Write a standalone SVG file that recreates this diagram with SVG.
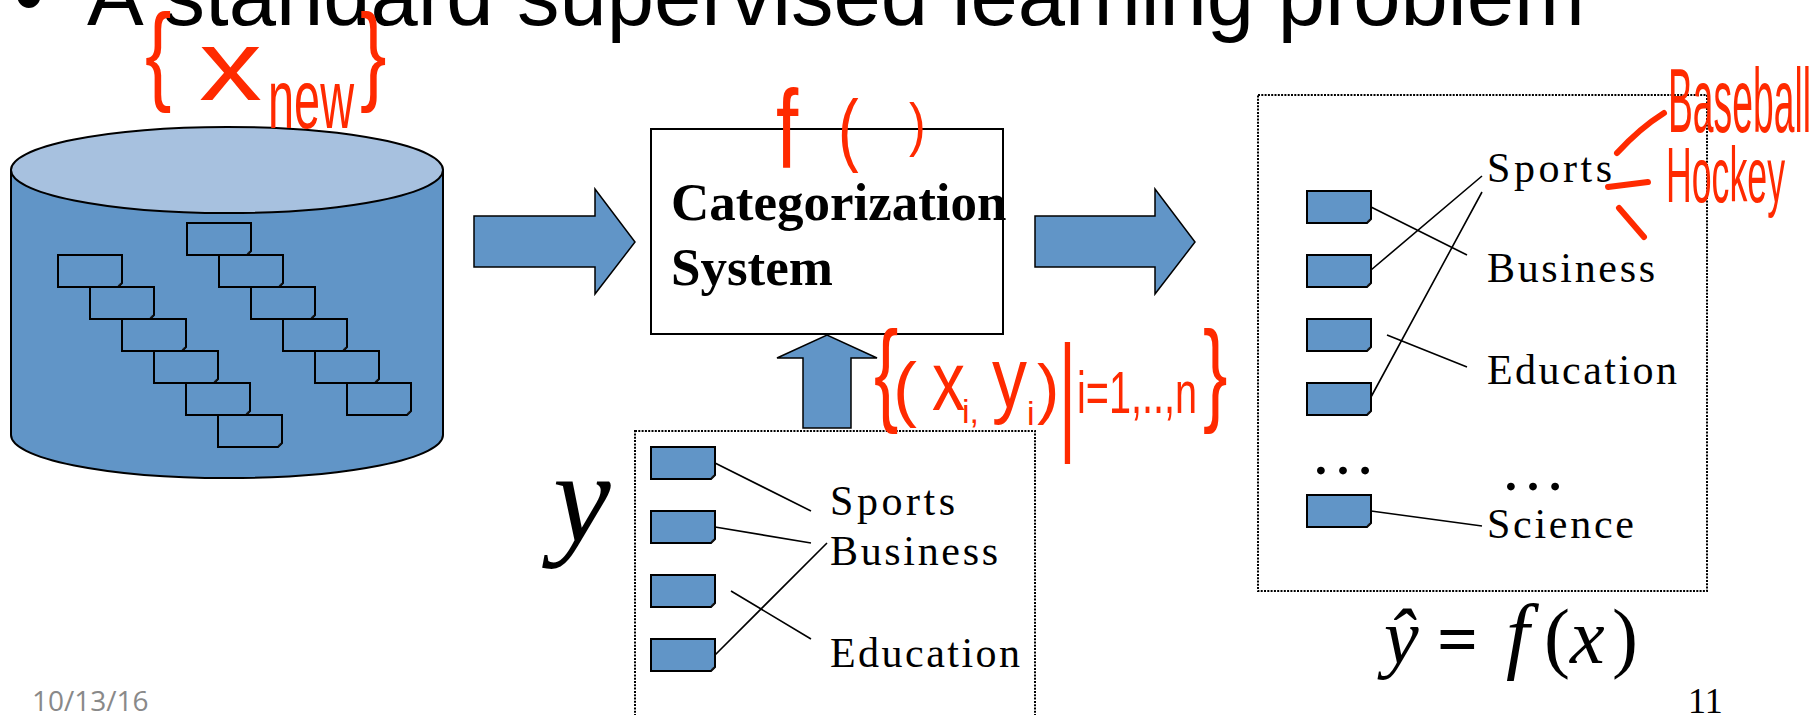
<svg xmlns="http://www.w3.org/2000/svg" xmlns:xlink="http://www.w3.org/1999/xlink" width="1814" height="715" viewBox="0 0 1814 715">
  <style>
    .doc { fill:#6195C7; stroke:#000; stroke-width:2; }
    .fold { fill:#222; }
    .dotbox { fill:none; stroke:#000; stroke-width:2; stroke-dasharray:2 1.3; }
    .link { stroke:#000; stroke-width:1.6; fill:none; }
    .blk { fill:#6195C7; stroke:#000; stroke-width:1.5; }
    .lbl { font-family:"Liberation Serif", serif; font-size:42px; fill:#000; }
    .ink { fill:#FF2A00; font-family:"Liberation Sans", sans-serif; }
    .inkline { stroke:#FF2A00; stroke-width:6; stroke-linecap:round; fill:none; }
  </style>
  <defs>
    <!-- document icon with a folded bottom-right corner -->
    <g id="doc">
      <path class="doc" d="M0,0H64V28L60,32H0Z"/>
      <path class="fold" d="M60,32L61,29L64,28Z"/>
    </g>
  </defs>

  <rect width="1814" height="715" fill="#fff"/>

  <!-- slide title -->
  <g id="title">
    <text x="14" y="25" font-family="'Liberation Sans', sans-serif" font-size="85" fill="#000">•</text>
    <text x="87" y="25" font-family="'Liberation Sans', sans-serif" font-size="85" fill="#000">A standard supervised learning problem</text>
  </g>

  <!-- document store -->
  <g id="database">
    <path d="M11,170V435A216,43 0 0 0 443,435V170Z" fill="#6195C7" stroke="#000" stroke-width="2"/>
    <ellipse cx="227" cy="170" rx="216" ry="43" fill="#A7C1DF" stroke="#000" stroke-width="2"/>
    <use xlink:href="#doc" x="58" y="255"/>
    <use xlink:href="#doc" x="90" y="287"/>
    <use xlink:href="#doc" x="122" y="319"/>
    <use xlink:href="#doc" x="154" y="351"/>
    <use xlink:href="#doc" x="186" y="383"/>
    <use xlink:href="#doc" x="218" y="415"/>
    <use xlink:href="#doc" x="187" y="223"/>
    <use xlink:href="#doc" x="219" y="255"/>
    <use xlink:href="#doc" x="251" y="287"/>
    <use xlink:href="#doc" x="283" y="319"/>
    <use xlink:href="#doc" x="315" y="351"/>
    <use xlink:href="#doc" x="347" y="383"/>
  </g>

  <!-- classifier -->
  <g id="categorizer">
    <rect x="651" y="129" width="352" height="205" fill="#fff" stroke="#000" stroke-width="2"/>
    <text x="671" y="220" font-family="'Liberation Serif', serif" font-weight="bold" font-size="53">Categorization</text>
    <text x="671" y="285" font-family="'Liberation Serif', serif" font-weight="bold" font-size="53">System</text>
  </g>

  <!-- block arrows -->
  <g id="connectors">
    <path class="blk" d="M474,216H595V189L635,242L595,294V267H474Z"/>
    <path class="blk" d="M1035,216H1155V189L1195,242L1155,294V267H1035Z"/>
    <path class="blk" d="M803,428V358H777L827,335L877,358H851V428Z"/>
  </g>

  <!-- labelled training set -->
  <g id="training-set">
    <text x="553" y="541" font-family="'Liberation Serif', serif" font-style="italic" font-size="130">y</text>
    <rect class="dotbox" x="635" y="431" width="400" height="320"/>
    <use xlink:href="#doc" x="651" y="447"/>
    <use xlink:href="#doc" x="651" y="511"/>
    <use xlink:href="#doc" x="651" y="575"/>
    <use xlink:href="#doc" x="651" y="639"/>
    <path class="link" d="M715,463L811,511M715,527L811,543M715,655L827,543M731,591L811,639"/>
    <text class="lbl" x="830" y="515" textLength="125" lengthAdjust="spacing">Sports</text>
    <text class="lbl" x="830" y="565" textLength="168" lengthAdjust="spacing">Business</text>
    <text class="lbl" x="830" y="667" textLength="190" lengthAdjust="spacing">Education</text>
  </g>

  <!-- predicted categories -->
  <g id="predictions">
    <rect class="dotbox" x="1258" y="95" width="449" height="496"/>
    <use xlink:href="#doc" x="1307" y="191"/>
    <use xlink:href="#doc" x="1307" y="255"/>
    <use xlink:href="#doc" x="1307" y="319"/>
    <use xlink:href="#doc" x="1307" y="383"/>
    <use xlink:href="#doc" x="1307" y="495"/>
    <path class="link" d="M1371,207L1467,255M1371,270L1482,176M1371,397L1482,192M1387,335L1467,367M1371,511L1482,526"/>
    <text class="lbl" x="1487" y="182" textLength="125" lengthAdjust="spacing">Sports</text>
    <text class="lbl" x="1487" y="282" textLength="168" lengthAdjust="spacing">Business</text>
    <text class="lbl" x="1487" y="384" textLength="190" lengthAdjust="spacing">Education</text>
    <text class="lbl" x="1487" y="538" textLength="147" lengthAdjust="spacing">Science</text>
    <text x="1310" y="474" font-family="'Liberation Serif', serif" font-size="66">…</text>
    <text x="1500" y="490" font-family="'Liberation Serif', serif" font-size="66">…</text>
  </g>

  <!-- prediction formula -->
  <g id="formula" font-family="'Liberation Serif', serif" font-size="78">
    <text y="663"><tspan x="1384" font-style="italic">ŷ</tspan><tspan x="1437" font-weight="bold" font-size="72">=</tspan><tspan x="1506" font-style="italic" font-size="84">f</tspan><tspan x="1544">(</tspan><tspan x="1570" font-style="italic">x</tspan><tspan x="1612">)</tspan></text>
  </g>

  <!-- footer -->
  <g id="footer">
    <text x="32" y="711" font-family="'Open Sans', sans-serif" font-size="28" fill="#898989">10/13/16</text>
    <text x="1688" y="713" font-family="'Liberation Serif', serif" font-size="36" fill="#000">11</text>
  </g>

  <!-- handwritten notes -->
  <g id="notes">
    <!-- {x_new} -->
    <text class="ink" transform="translate(145,90) scale(1.3,1.8)" font-size="61">{</text>
    <text class="ink" x="199" y="100" font-size="100" textLength="63" lengthAdjust="spacingAndGlyphs">x</text>
    <text class="ink" x="268" y="128" font-size="83" textLength="86" lengthAdjust="spacingAndGlyphs">new</text>
    <text class="ink" transform="translate(360,90) scale(1.3,1.8)" font-size="61">}</text>

    <!-- f( ) -->
    <text class="ink" transform="translate(776,168) scale(1,1.4)" font-size="80">f</text>
    <text class="ink" transform="translate(838,156) scale(1,1.3)" font-size="62">(</text>
    <text class="ink" transform="translate(909,145) scale(1,1.2)" font-size="50">)</text>

    <!-- {(x_i, y_i) | i=1,..,n} -->
    <text class="ink" transform="translate(874,410) scale(1.2,1.85)" font-size="61">{</text>
    <text class="ink" x="893" y="413" font-size="72">(</text>
    <text class="ink" x="932" y="410" font-size="83" textLength="33" lengthAdjust="spacingAndGlyphs">x</text>
    <text class="ink" x="962" y="423" font-size="34">i,</text>
    <text class="ink" x="992" y="407" font-size="86" textLength="35" lengthAdjust="spacingAndGlyphs">y</text>
    <text class="ink" x="1027" y="425" font-size="34">i</text>
    <text class="ink" x="1037" y="411" font-size="67">)</text>
    <text class="ink" transform="translate(1059,436) scale(1,2)" font-size="65">|</text>
    <text class="ink" x="1077" y="413" font-size="60" textLength="120" lengthAdjust="spacingAndGlyphs">i=1,..,n</text>
    <text class="ink" transform="translate(1203,410) scale(1.2,1.85)" font-size="61">}</text>

    <!-- Sports → Baseball, Hockey -->
    <path class="inkline" d="M1617,153Q1640,128 1664,113M1608,187L1648,182M1619,208L1644,237"/>
    <text class="ink" x="1668" y="132" font-size="91" textLength="143" lengthAdjust="spacingAndGlyphs">Baseball</text>
    <text class="ink" x="1666" y="202" font-size="77" textLength="119" lengthAdjust="spacingAndGlyphs">Hockey</text>
  </g>
</svg>
